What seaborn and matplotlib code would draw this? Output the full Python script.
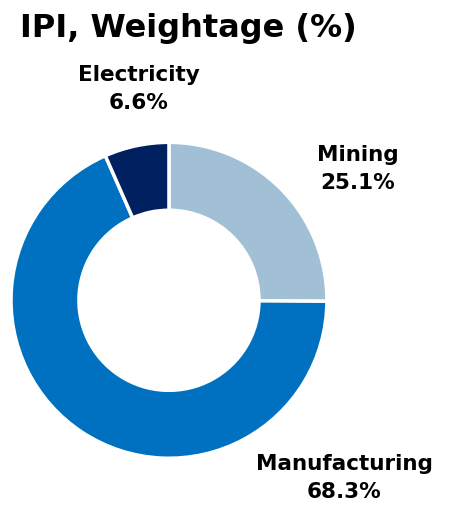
import matplotlib
matplotlib.use("Agg")
import matplotlib.pyplot as plt
import seaborn as sns

sectors = ["Mining", "Manufacturing", "Electricity"]
weights = [25.1, 68.3, 6.6]
colors = ["#A1BFD5", "#0070C0", "#002060"]

sns.set_theme(style="white")
plt.rcParams['font.family'] = ['DejaVu Sans']

fig = plt.figure(figsize=(4.52, 5.12), dpi=100)
ax = fig.add_axes([0.0243, 0.105, 0.699, 0.617])
ax.pie(weights, colors=colors, startangle=90, counterclock=False,
       wedgeprops=dict(width=0.43, edgecolor="white", linewidth=2.5))
ax.set_xlim(-1, 1)
ax.set_ylim(-1, 1)
ax.set_aspect("equal")
ax.axis("off")

fig.text(0.045, 0.945, "IPI, Weightage (%)", fontsize=23, fontweight="bold",
         ha="left", va="center", color="black")

# label positions (figure fraction)
label_pos = {"Mining": (0.792, 0.670), "Manufacturing": (0.762, 0.067), "Electricity": (0.307, 0.827)}
for name, w in zip(sectors, weights):
    x, y = label_pos[name]
    fig.text(x, y, f"{name}\n{w:.1f}%", fontsize=15.5, fontweight="bold",
             ha="center", va="center", linespacing=1.5, color="black")

fig.savefig("out.png", dpi=100)
